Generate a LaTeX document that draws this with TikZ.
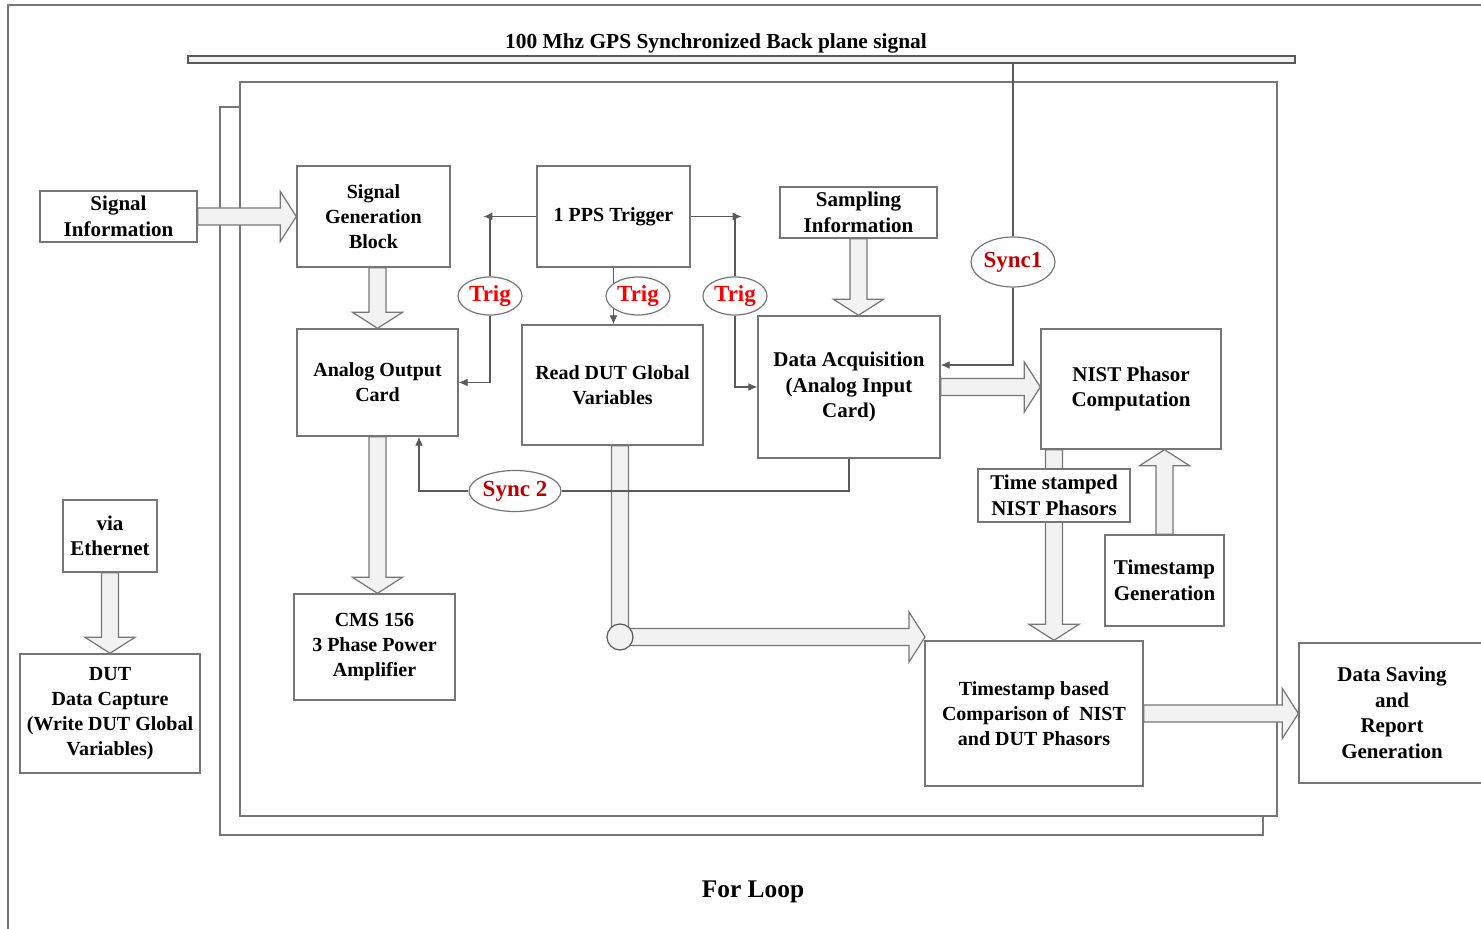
\documentclass[tikz,border=0pt]{standalone}
\usepackage{fontspec}
\setmainfont{Liberation Serif}
\usetikzlibrary{calc,arrows.meta,shapes.geometric,backgrounds}

\definecolor{linegray}{HTML}{767676}
\definecolor{conngray}{HTML}{5A5A5A}
\definecolor{arrowfill}{HTML}{F2F2F2}
\definecolor{trigred}{HTML}{FF0000}
\definecolor{syncred}{HTML}{C00000}

\newcommand{\fatright}[2]{\draw[fat] let \p1=#1, \p2=#2 in (\x1,\y1+4.25pt) -- (\x2-8pt,\y1+4.25pt) -- (\x2-8pt,\y1+12.5pt) -- (\x2,\y1) -- (\x2-8pt,\y1-12.5pt) -- (\x2-8pt,\y1-4.25pt) -- (\x1,\y1-4.25pt) -- cycle;}
\newcommand{\fatdown}[2]{\draw[fat] let \p1=#1, \p2=#2 in (\x1-4.25pt,\y1) -- (\x1-4.25pt,\y2+8pt) -- (\x1-12.5pt,\y2+8pt) -- (\x1,\y2) -- (\x1+12.5pt,\y2+8pt) -- (\x1+4.25pt,\y2+8pt) -- (\x1+4.25pt,\y1) -- cycle;}
\newcommand{\fatup}[2]{\draw[fat] let \p1=#1, \p2=#2 in (\x1-4.25pt,\y1) -- (\x1-4.25pt,\y2-8pt) -- (\x1-12.5pt,\y2-8pt) -- (\x1,\y2) -- (\x1+12.5pt,\y2-8pt) -- (\x1+4.25pt,\y2-8pt) -- (\x1+4.25pt,\y1) -- cycle;}

\begin{document}
\begin{tikzpicture}[x=0.5pt,y=-0.5pt,
    box/.style={draw=linegray,line width=0.7pt,fill=white,align=center,inner sep=0pt,font=\bfseries\fontsize{10}{12.6}\selectfont},
    bigbox/.style={box,font=\bfseries\fontsize{10.5}{12.8}\selectfont},
    tag/.style={ellipse,draw=linegray,line width=0.6pt,fill=white,inner sep=0pt,font=\bfseries\fontsize{11.5}{13}\selectfont},
    conn/.style={draw=conngray,line width=0.6pt},
    fat/.style={draw=linegray,line width=0.6pt,fill=arrowfill},
    frame/.style={draw=linegray,line width=0.7pt},
    >={Latex[length=4.5pt,width=4pt]}]
    \useasboundingbox (0,0) rectangle (1481,929);

    \node[font=\bfseries\fontsize{10.7}{13}\selectfont] (bustitle) at (716,43) {100 Mhz GPS Synchronized Back plane signal};
    \node[draw=conngray,line width=0.6pt,fill=arrowfill,minimum width=553.5pt,minimum height=3.5pt,inner sep=0pt] (bus) at (741.5,59.5) {};

    \node[bigbox,minimum width=78.5pt,minimum height=25.5pt] (sinfo) at (118.5,216.5) {Signal\\Information};
    \node[box,minimum width=76.5pt,minimum height=50.5pt] (sgb) at (373.5,216.5) {Signal\\Generation\\Block};
    \node[box,minimum width=76.5pt,minimum height=50.5pt] (pps) at (613.5,216.5) {1 PPS Trigger};
    \node[bigbox,minimum width=78.5pt,minimum height=25.5pt] (sampinfo) at (858.5,212.5) {Sampling\\Information};
    \node[box,minimum width=80.5pt,minimum height=53.5pt] (aoc) at (377.5,382.5) {Analog Output\\Card};
    \node[box,minimum width=90.5pt,minimum height=60pt] (rdut) at (612.5,385) {Read DUT Global\\Variables};
    \node[bigbox,minimum width=91pt,minimum height=71pt] (daq) at (849,387) {Data Acquisition\\(Analog Input\\Card)};
    \node[bigbox,minimum width=90pt,minimum height=60pt] (nist) at (1131,389) {NIST Phasor\\Computation};
    \node[bigbox,minimum width=59.5pt,minimum height=45.5pt] (tsgen) at (1164.5,580.5) {Timestamp\\Generation};
    \node[box,minimum width=80.5pt,minimum height=53pt] (cms) at (374.5,647) {CMS 156\\3 Phase Power\\Amplifier};
    \node[box,minimum width=109pt,minimum height=72.5pt] (cmp) at (1034,713.5) {Timestamp based\\Comparison of~~NIST\\and DUT Phasors};
    \node[bigbox,minimum width=93pt,minimum height=70pt] (dsave) at (1392,713) {Data Saving\\and\\Report\\Generation};
    \node[bigbox,minimum width=47pt,minimum height=36pt] (veth) at (110,536) {via\\Ethernet};
    \node[box,minimum width=90pt,minimum height=59.5pt] (dut) at (110,713.5) {DUT\\Data Capture\\(Write DUT Global\\Variables)};
    \node[bigbox,minimum width=76pt,minimum height=26.5pt] (tsnp) at (1054,495.5) {Time stamped\\NIST Phasors};

    \node[tag,minimum width=32pt,minimum height=19pt,text=trigred] (trig1) at (490,296) {Trig};
    \node[tag,minimum width=32pt,minimum height=19pt,text=trigred] (trig2) at (638,296) {Trig};
    \node[tag,minimum width=32pt,minimum height=19pt,text=trigred] (trig3) at (735,296) {Trig};
    \node[tag,minimum width=42pt,minimum height=25pt,text=syncred] (sync1) at (1013,262) {Sync1};
    \node[tag,minimum width=46pt,minimum height=20.5pt,text=syncred] (sync2) at (515,491) {Sync 2};

    \coordinate (lbend) at (620,637);
    \coordinate (ltip) at (925,637);
    \node[circle,draw=conngray,line width=0.6pt,fill=arrowfill,minimum size=13pt,inner sep=0pt] (lhub) at (lbend) {};

    \node[font=\bfseries\fontsize{12.7}{15}\selectfont] (forloop) at (753,892) {For Loop};

    \begin{scope}[on background layer]
        \draw[frame] (1481,5) -- (8,5) -- (8,929);
        \draw[frame] (220,107) rectangle (1263,835);
        \draw[frame,fill=white] (240,82) rectangle (1277,816);

        \fatright{(sinfo.east)}{(sgb.west)}
        \fatdown{([xshift=2pt]sgb.south)}{(aoc.north)}
        \fatdown{(sampinfo.south)}{(daq.north)}
        \fatright{(daq.east)}{(nist.west)}
        \fatdown{(aoc.south)}{(cms.north)}
        \fatdown{(tsnp |- nist.south)}{(tsnp |- cmp.north)}
        \fatup{(tsgen.north)}{(nist.south)}
        \fatright{(cmp.east)}{(dsave.west)}
        \fatdown{(veth.south)}{(dut.north)}
        \draw[fat] let \p1=(lbend), \p2=(ltip), \p3=(rdut.south) in (\x1-4.25pt,\y3) -- (\x1-4.25pt,\y1-4.25pt) -- (\x2-8pt,\y1-4.25pt) -- (\x2-8pt,\y1-12.5pt) -- (\x2,\y1) -- (\x2-8pt,\y1+12.5pt) -- (\x2-8pt,\y1+4.25pt) -- (\x1+4.25pt,\y1+4.25pt) -- (\x1+4.25pt,\y3) -- cycle;

        \draw[conn,->] (pps.west) -- ++(-53,0);
        \draw[conn] (trig1.north) -- (trig1 |- pps.west);
        \draw[conn,->] (trig1.south) |- (aoc.east);
        \draw[conn,->] (pps.south) -- (pps.south |- rdut.north);
        \draw[conn,->] (pps.east) -- ++(51,0);
        \draw[conn] (trig3.north) -- (trig3 |- pps.east);
        \draw[conn,->] (trig3.south) |- (daq.west);
        \draw[conn] (sync1 |- bus.south) -- (sync1.north);
        \draw[conn,->] (sync1.south) |- ([yshift=11pt]daq.east);
        \draw[conn] (daq.south) |- (sync2.east);
        \draw[conn,->] (sync2.west) -| ([xshift=20.75pt]aoc.south);
    \end{scope}
\end{tikzpicture}
\end{document}
